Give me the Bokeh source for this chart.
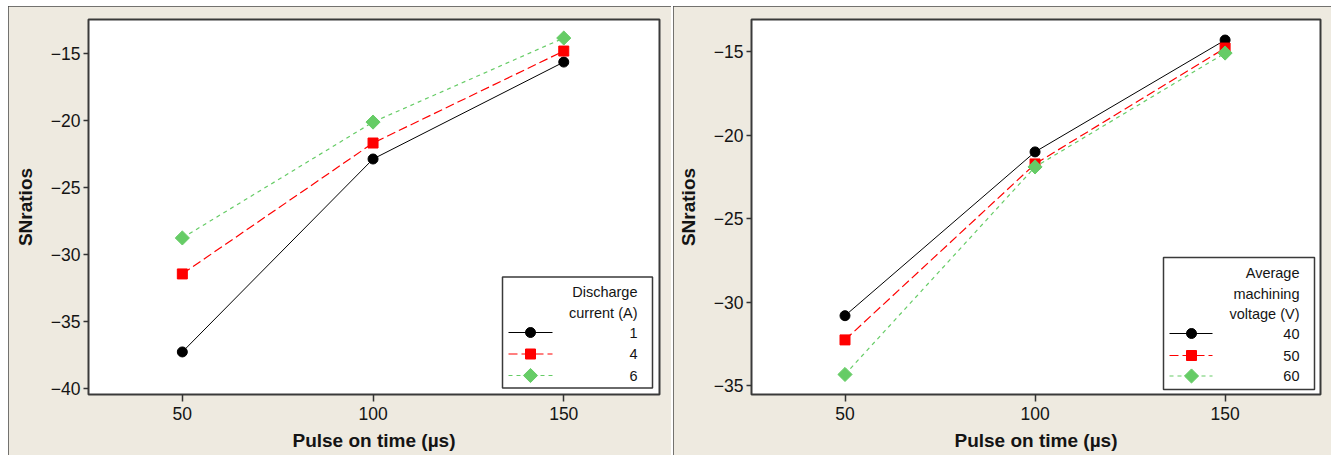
import numpy as np
from bokeh.plotting import figure
from bokeh.layouts import row
from bokeh.models import Range1d, FixedTicker
from bokeh.core.properties import value
from bokeh.embed import file_html
from bokeh.resources import INLINE

# Main effects of pulse on time on the S/N ratio
pulse_on_time = [50, 100, 150]

current_levels = ["1", "4", "6"]
sn_current_1 = [-37.24, -22.87, -15.65]
sn_current_4 = [-31.43, -21.68, -14.83]
sn_current_6 = [-28.75, -20.12, -13.86]

voltage_levels = ["40", "50", "60"]
sn_voltage_40 = [-30.81, -21.00, -14.30]
sn_voltage_50 = [-32.26, -21.72, -14.78]
sn_voltage_60 = [-34.33, -21.90, -15.08]

x_ticks = [50, 100, 150]
left_y_ticks = [-40, -35, -30, -25, -20, -15]
right_y_ticks = [-35, -30, -25, -20, -15]

FONT = "Liberation Sans"
PANEL_BG = "#EEEAE0"
TEXT = "#141414"

STYLES = [
    dict(color="#000000", dash="solid", marker="circle", size=10, angle=0.0, width=1.0),
    dict(color="#FF0000", dash="9 4", marker="square", size=10, angle=0.0, width=1.2),
    dict(color="#66CC66", dash="4 4", marker="square", size=10, angle=np.pi / 4, width=1.2),
]


def make_panel(series, levels, title_lines, y_rng, y_ticks, frame_w, b_left, b_right, lg):
    x_rng = (25.4, 175.1)
    frame_h = 375
    p = figure(
        frame_width=frame_w, frame_height=frame_h,
        min_border_left=b_left, min_border_right=b_right,
        min_border_top=13, min_border_bottom=61,
        x_range=Range1d(*x_rng), y_range=Range1d(*y_rng),
        output_backend="svg", toolbar_location=None,
        background_fill_color="white", border_fill_color=PANEL_BG,
        outline_line_color="#3a3a3a", outline_line_width=2,
        styles={"outline": "2px solid #4a4a4a", "outline-offset": "-2px"},
    )
    p.grid.visible = False

    for ax in (p.xaxis[0], p.yaxis[0]):
        ax.axis_line_color = None
        ax.major_tick_line_color = "#333333"
        ax.major_tick_line_width = 1.5
        ax.minor_tick_line_color = None
        ax.major_tick_in = 0
        ax.major_label_text_font = FONT
        ax.major_label_text_font_size = "17.5px"
        ax.major_label_text_color = TEXT
        ax.axis_label_text_font = FONT
        ax.axis_label_text_font_style = "bold"
        ax.axis_label_text_font_size = "19px"
        ax.axis_label_text_color = TEXT

    p.xaxis.ticker = FixedTicker(ticks=x_ticks)
    p.xaxis.major_tick_out = 7
    p.xaxis.major_label_standoff = 5
    p.xaxis.axis_label = "Pulse on time (µs)"
    p.xaxis.axis_label_standoff = 7

    p.yaxis.ticker = FixedTicker(ticks=y_ticks)
    p.yaxis.major_tick_out = 5
    p.yaxis.major_label_standoff = 3
    p.yaxis.axis_label = "SNratios"
    p.yaxis.axis_label_standoff = 12

    for ys, st in zip(series, STYLES):
        p.line(pulse_on_time, ys, line_color=st["color"], line_width=st["width"],
               line_dash=st["dash"])
        p.scatter(pulse_on_time, ys, marker=st["marker"], size=st["size"],
                  angle=st["angle"], fill_color=st["color"], line_color=st["color"])

    # pixel offsets inside the frame -> data coordinates
    def dx(px):
        return x_rng[0] + px / frame_w * (x_rng[1] - x_rng[0])

    def dy(py):
        return y_rng[1] - py / frame_h * (y_rng[1] - y_rng[0])

    p.quad(left=[dx(lg["box"][0])], right=[dx(lg["box"][1])],
           top=[dy(lg["box"][2])], bottom=[dy(lg["box"][3])],
           fill_color="white", line_color="#3a3a3a", line_width=1.5)

    p.text(x=[dx(lg["text_right"])] * len(title_lines),
           y=[dy(v) for v in lg["title_y"]], text=title_lines,
           text_align="right", text_baseline="middle",
           text_font=value(FONT), text_font_size=value("14.5px"), text_color=TEXT)

    for lab, ey, st in zip(levels, lg["entry_y"], STYLES):
        p.line([dx(lg["line"][0]), dx(lg["line"][1])], [dy(ey), dy(ey)],
               line_color=st["color"], line_width=st["width"], line_dash=st["dash"])
        p.scatter([dx(lg["line"][2])], [dy(ey)], marker=st["marker"], size=st["size"],
                  angle=st["angle"], fill_color=st["color"], line_color=st["color"])
        p.text(x=[dx(lg["text_right"])], y=[dy(ey)], text=[lab],
               text_align="right", text_baseline="middle",
               text_font=value(FONT), text_font_size=value("14.5px"), text_color=TEXT)
    return p


left_legend = dict(box=(414, 564, 257.5, 368.5), text_right=549,
                   title_y=[272, 293], entry_y=[313, 334.5, 356],
                   line=(420, 464, 442))
right_legend = dict(box=(412, 563, 238, 370), text_right=548,
                    title_y=[253, 274, 294.5], entry_y=[314, 336, 356.5],
                    line=(418, 461, 440))

p1 = make_panel([sn_current_1, sn_current_4, sn_current_6], current_levels,
                ["Discharge", "current (A)"], (-40.41, -12.48), left_y_ticks,
                571, 80, 12, left_legend)
p2 = make_panel([sn_voltage_40, sn_voltage_50, sn_voltage_60], voltage_levels,
                ["Average", "machining", "voltage (V)"], (-35.53, -13.07), right_y_ticks,
                569, 78, 11, right_legend)

layout = row(p1, p2, spacing=2, margin=(6, 0, 0, 8))

with open("out.html", "w") as f:
    f.write(file_html(layout, INLINE))
